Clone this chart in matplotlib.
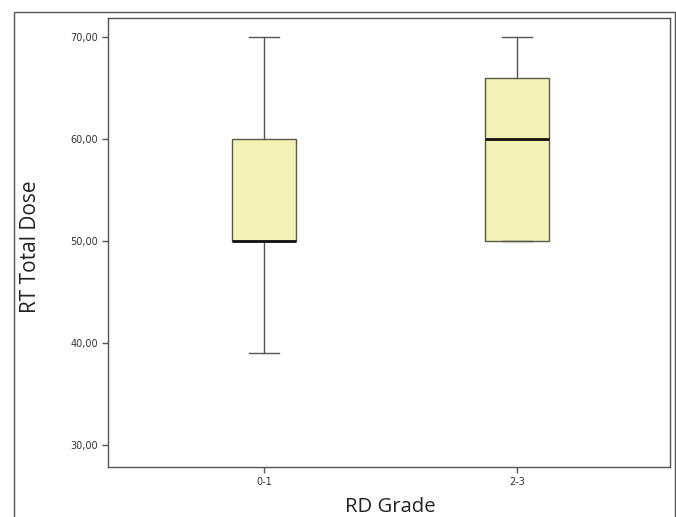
import matplotlib
matplotlib.use("Agg")
import matplotlib.pyplot as plt
from matplotlib.patches import Rectangle

categories = ["0-1", "2-3"]
whisker_low = [39, 50]
q1 = [50, 50]
median = [50, 60]
q3 = [60, 66]
whisker_high = [70, 70]
yticks = [30, 40, 50, 60, 70]
ytick_labels = ["30,00", "40,00", "50,00", "60,00", "70,00"]

fig = plt.figure(figsize=(6.76, 5.17), dpi=100)
ax = fig.add_axes([108/676, 1-467/517, (670-108)/676, (467-18)/517])

stats = []
for i, c in enumerate(categories):
    stats.append(dict(label=c, whislo=whisker_low[i], q1=q1[i], med=median[i],
                      q3=q3[i], whishi=whisker_high[i], fliers=[]))

ax.bxp(stats, positions=[1, 2], widths=0.25, patch_artist=True, showfliers=False,
       boxprops=dict(facecolor="#F3F1B6", edgecolor="#5a5a4a", linewidth=1.0),
       medianprops=dict(color="#111111", linewidth=2.0),
       whiskerprops=dict(color="#555555", linewidth=1.0),
       capprops=dict(color="#555555", linewidth=1.0),
       capwidths=0.12)

ax.set_xlim(0.383, 2.605)
ax.set_ylim(27.84, 71.86)
ax.set_yticks(yticks)
ax.set_yticklabels(ytick_labels)
ax.set_xticks([1, 2])
ax.set_xticklabels(categories)
ax.tick_params(axis="both", direction="out", length=4, width=1, color="#555555",
               labelsize=7, labelcolor="#333333", pad=3)
for s in ax.spines.values():
    s.set_color("#555555")
    s.set_linewidth(1.0)

fig.text(30/676, 1-247/517, "RT Total Dose", rotation=90, ha="center", va="center",
         fontsize=15, color="#222222", family="Open Sans")
fig.text(390/676, 1-507/517, "RD Grade", ha="center", va="center",
         fontsize=14.6, color="#222222", family="Open Sans")

fig.add_artist(Rectangle((14/676, -0.05), (675-14)/676, 1.05 - 12/517,
                         transform=fig.transFigure, fill=False,
                         edgecolor="#555555", linewidth=1.0))

fig.savefig("out.png", dpi=100)
